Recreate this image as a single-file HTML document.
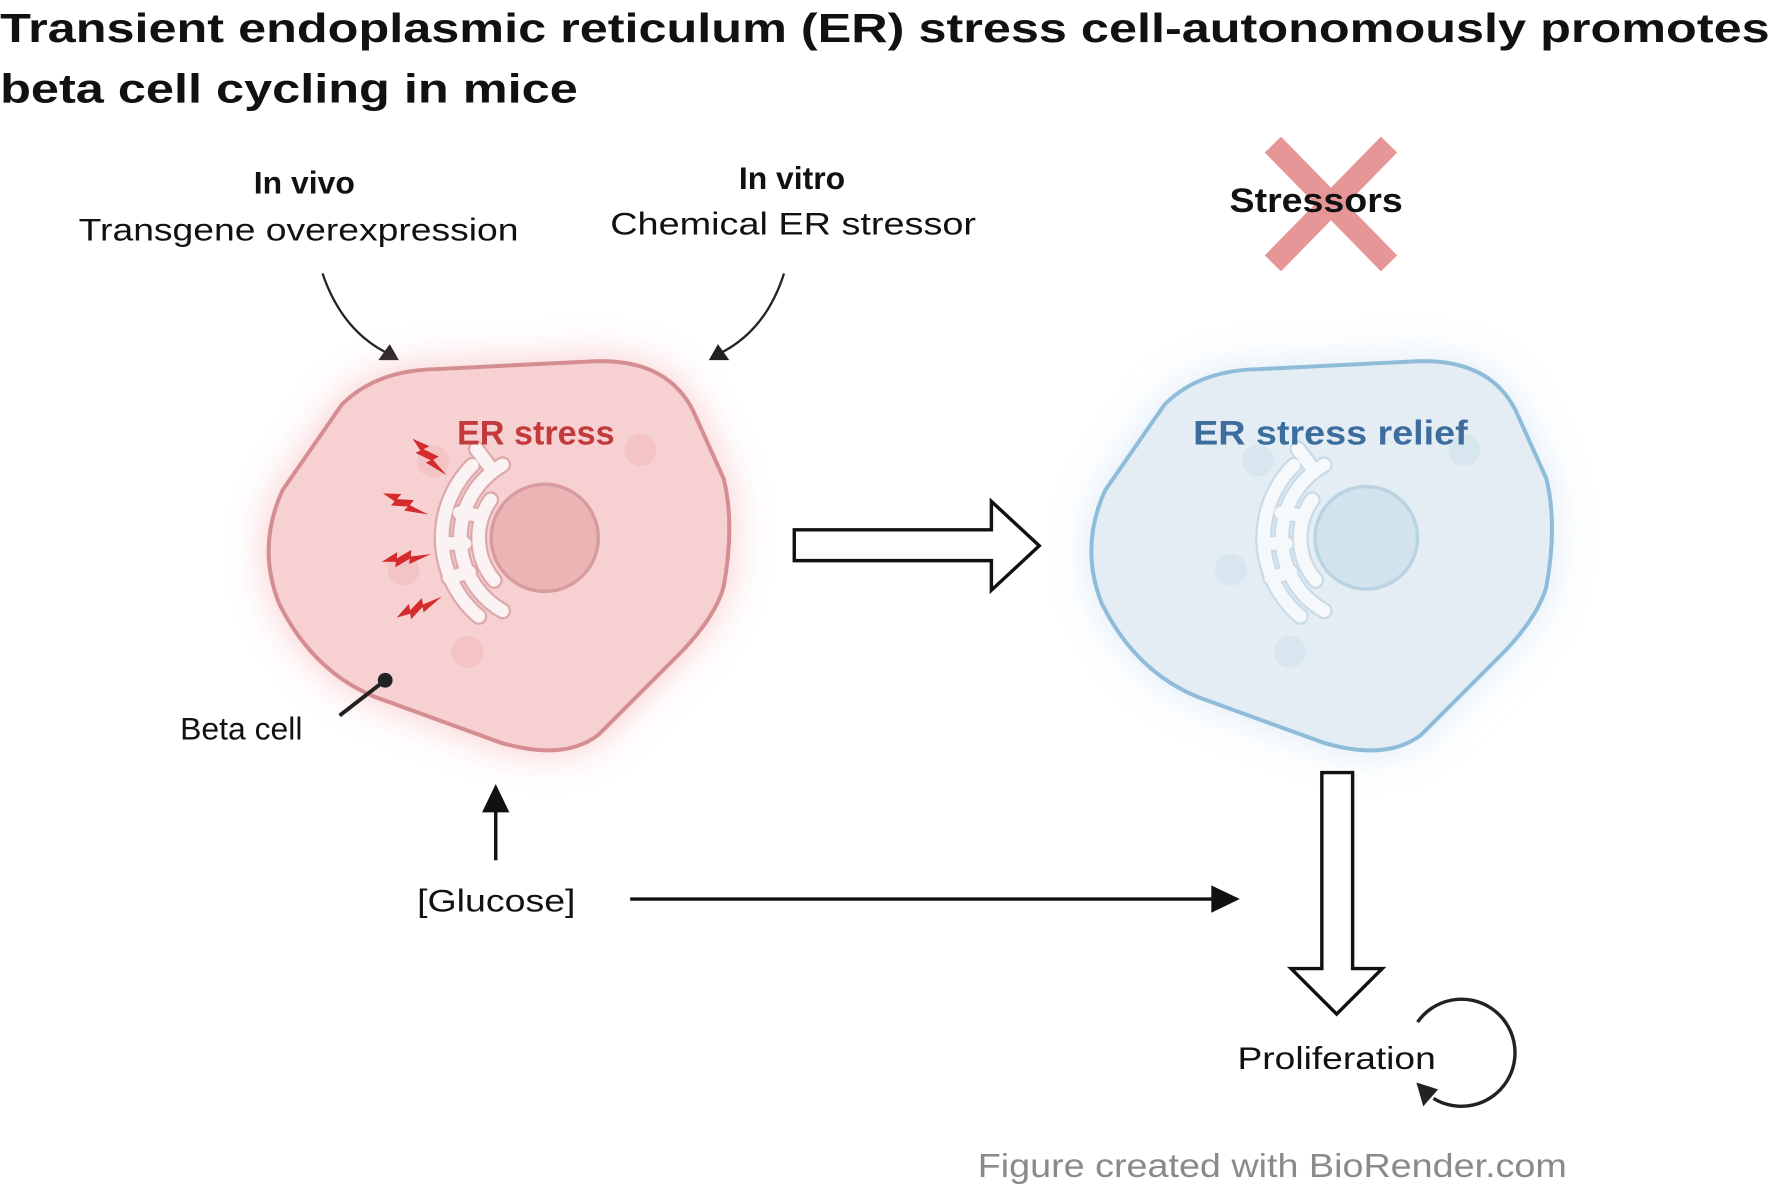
<!DOCTYPE html>
<html><head><meta charset="utf-8"><style>
html,body{margin:0;padding:0;background:#fff;}
svg{display:block;}
text{font-family:"Liberation Sans",Arial,sans-serif;}
</style></head><body>
<svg width="1772" height="1188" viewBox="0 0 1555 1042.6" xmlns="http://www.w3.org/2000/svg">
<defs>
<filter id="glow" x="-30%" y="-30%" width="160%" height="160%"><feGaussianBlur stdDeviation="18"/></filter>
<path id="bolt" d="M0,0 L15,-8 L14,-2 L28,-9 L27,-3 L46,-4 L25,4 L26,-1 L12,6 L13,1 Z"/>
<g id="er" fill="none" stroke-linecap="round">
<path d="M-44.4,37.3 A58,58 0 0 1 -47.5,-33.3 M-37,64.1 A74,74 0 0 1 -37,-64.1 M-57.9,68.9 A90,90 0 0 1 -63.6,-63.6 M-60,-20 L-75,-22 M-66,30 L-84,35 M-48,-62 L-60,-78 M-70,5 L-88,5" stroke="var(--ero)" stroke-width="15"/>
<path d="M-44.4,37.3 A58,58 0 0 1 -47.5,-33.3 M-37,64.1 A74,74 0 0 1 -37,-64.1 M-57.9,68.9 A90,90 0 0 1 -63.6,-63.6 M-60,-20 L-75,-22 M-66,30 L-84,35 M-48,-62 L-60,-78 M-70,5 L-88,5" stroke="var(--eri)" stroke-width="11"/>
</g>
</defs>
<rect width="1555" height="1043" fill="#fff"/>
<text x="0" y="37" font-size="36" font-weight="bold" fill="#111" textLength="1553" lengthAdjust="spacingAndGlyphs">Transient endoplasmic reticulum (ER) stress cell-autonomously promotes</text>
<text x="0" y="90" font-size="36" font-weight="bold" fill="#111" textLength="507" lengthAdjust="spacingAndGlyphs">beta cell cycling in mice</text>

<text x="267" y="170" font-size="28" font-weight="bold" text-anchor="middle" fill="#111">In vivo</text>
<text x="262" y="211" font-size="28" text-anchor="middle" fill="#111" textLength="386" lengthAdjust="spacingAndGlyphs">Transgene overexpression</text>
<text x="695" y="166" font-size="28" font-weight="bold" text-anchor="middle" fill="#111">In vitro</text>
<text x="696" y="206" font-size="28" text-anchor="middle" fill="#111" textLength="321" lengthAdjust="spacingAndGlyphs">Chemical ER stressor</text>

<g stroke="#e79697" stroke-width="20" stroke-linecap="square">
<line x1="1124" y1="134" x2="1212" y2="224"/><line x1="1212" y1="134" x2="1124" y2="224"/>
</g>
<text x="1155" y="186" font-size="30" font-weight="bold" text-anchor="middle" fill="#111" textLength="152" lengthAdjust="spacingAndGlyphs">Stressors</text>

<path d="M283,240 Q300,290 340,310" fill="none" stroke="#222" stroke-width="2"/>
<polygon points="350,316 332,316 342,302" fill="#222"/>
<path d="M688,240 Q672,290 632,310" fill="none" stroke="#222" stroke-width="2"/>
<polygon points="622,316 640,316 630,302" fill="#222"/>

<!-- red cell -->
<path d="M382,324 L522,317 Q585,315 608,360 L635,420 Q645,460 635,515 Q628,540 600,570 L525,645 Q495,668 440,652 L330,612 Q275,590 245,530 Q225,480 248,430 L300,355 Q330,325 382,324 Z" fill="#f59ea2" filter="url(#glow)" opacity="0.6"/>
<path d="M382,324 L522,317 Q585,315 608,360 L635,420 Q645,460 635,515 Q628,540 600,570 L525,645 Q495,668 440,652 L330,612 Q275,590 245,530 Q225,480 248,430 L300,355 Q330,325 382,324 Z" fill="#f7d0d1" stroke="#d48e91" stroke-width="3.5"/>
<g fill="#f2bfc1" opacity="0.7"><circle cx="380" cy="405" r="14"/><circle cx="562" cy="395" r="14"/><circle cx="410" cy="572" r="14"/><circle cx="354" cy="500" r="14"/></g>
<circle cx="478" cy="472" r="47" fill="#ebb5b6" stroke="#d99c9e" stroke-width="3"/>
<use href="#er" transform="translate(478,472)" style="--ero:#dcaaac;--eri:#fbf3f3"/>
<g fill="#d42c2c">
<use href="#bolt" transform="translate(362,385) rotate(52) scale(0.95)"/>
<use href="#bolt" transform="translate(336,433) rotate(30) scale(0.95)"/>
<use href="#bolt" transform="translate(335,493) rotate(-4) scale(0.95)"/>
<use href="#bolt" transform="translate(348,542) rotate(-20) scale(0.95)"/>
</g>
<text x="401" y="390" font-size="30" font-weight="bold" fill="#c23a3c">ER stress</text>
<circle cx="338" cy="597" r="6.5" fill="#222"/>
<line x1="338" y1="597" x2="298" y2="628" stroke="#222" stroke-width="3.5"/>
<text x="158" y="649" font-size="28" fill="#111">Beta cell</text>

<path d="M697,465 L870,465 L870,440 L912,479 L870,518 L870,492 L697,492 Z" fill="#fff" stroke="#111" stroke-width="3"/>

<!-- blue cell -->
<g transform="translate(722,0)">
<path d="M382,324 L522,317 Q585,315 608,360 L635,420 Q645,460 635,515 Q628,540 600,570 L525,645 Q495,668 440,652 L330,612 Q275,590 245,530 Q225,480 248,430 L300,355 Q330,325 382,324 Z" fill="#b9d6ee" filter="url(#glow)" opacity="0.55"/>
<path d="M382,324 L522,317 Q585,315 608,360 L635,420 Q645,460 635,515 Q628,540 600,570 L525,645 Q495,668 440,652 L330,612 Q275,590 245,530 Q225,480 248,430 L300,355 Q330,325 382,324 Z" fill="#e4edf4" stroke="#8ebcd9" stroke-width="3.5"/>
<g fill="#d3e3ee" opacity="0.8"><circle cx="382" cy="404" r="14"/><circle cx="563" cy="395" r="14"/><circle cx="358" cy="500" r="14"/><circle cx="410" cy="572" r="14"/></g>
<circle cx="477" cy="472" r="45" fill="#d2e3ee" stroke="#bad3e3" stroke-width="3"/>
<use href="#er" transform="translate(477,472)" style="--ero:#c9dbe7;--eri:#f6f9fc"/>
</g>
<text x="1047" y="390" font-size="30" font-weight="bold" fill="#3c6d9d" textLength="241" lengthAdjust="spacingAndGlyphs">ER stress relief</text>

<path d="M1160,678 L1187,678 L1187,850 L1213,850 L1173,890 L1133,850 L1160,850 Z" fill="#fff" stroke="#111" stroke-width="3"/>

<line x1="435" y1="755" x2="435" y2="710" stroke="#111" stroke-width="3"/>
<polygon points="423,713 447,713 435,688" fill="#111"/>
<text x="366" y="800" font-size="28" fill="#111" textLength="139" lengthAdjust="spacingAndGlyphs">[Glucose]</text>
<line x1="553" y1="789" x2="1066" y2="789" stroke="#111" stroke-width="3"/>
<polygon points="1063,777 1063,801 1088,789" fill="#111"/>

<text x="1086" y="938" font-size="28" fill="#111" textLength="174" lengthAdjust="spacingAndGlyphs">Proliferation</text>
<path d="M1244,897 A47,47 0 1 1 1258,964" fill="none" stroke="#222" stroke-width="3"/>
<polygon points="1243,950 1249,971 1262,956" fill="#222"/>

<text x="858" y="1033" font-size="29" fill="#8a8a8a" textLength="517" lengthAdjust="spacingAndGlyphs">Figure created with BioRender.com</text>
</svg>
</body></html>
